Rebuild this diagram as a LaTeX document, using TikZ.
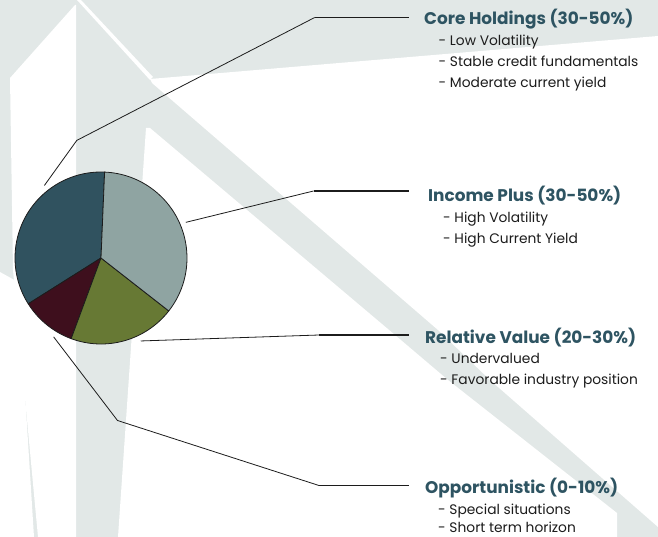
\documentclass[tikz,border=0pt]{standalone}
\usepackage{fontspec}
\setmainfont{Poppins}
\definecolor{bggray}{HTML}{E2E8E7}
\definecolor{pieteal}{HTML}{30525F}
\definecolor{piewine}{HTML}{3E0F1D}
\definecolor{pieolive}{HTML}{677934}
\definecolor{piesage}{HTML}{8FA4A2}
\definecolor{headteal}{HTML}{2E5462}
\definecolor{ink}{HTML}{1C1C1C}
\begin{document}
\begin{tikzpicture}[x=1pt,y=-1pt,line join=round,
	head/.style={anchor=base west,inner sep=0pt,text=headteal,font=\fontsize{16.9}{19}\selectfont\bfseries},
	item/.style={anchor=base west,inner sep=0pt,text=ink,font=\fontsize{13.8}{16}\selectfont},
	leader/.style={draw=ink,line width=0.8pt},
	tab/.style={draw=ink,line width=1.8pt}]
	\useasboundingbox (0,0) rectangle (658,537);
	% background turbine
	\fill[bggray] (0,0) rectangle (658,537);
	\fill[white] (0,272)--(18,282)--(34,537)--(0,537)--cycle;
	\fill[white] (75,5)--(10,78)--(13,270)--(38,537)--(76,537)--(76,5)--cycle;
	\fill[white] (77,0)--(81,0)--(153,77)--(150,80)--cycle;
	\fill[white] (150,79)--(658,36)--(658,527)--(490,380)--(438,330)--(152,83)--cycle;
	\fill[white] (146,128)--(118,537)--(617,537)--(617,513)--(448,380)--(395,335)--(150,128)--cycle;
	% pie
	\coordinate (pie) at (101,258);
	\foreach \a/\b/\c in {-87.6/-212.2/pieteal,-212.2/-249.7/piewine,-249.7/-322/pieolive,-322/-447.6/piesage}
		\draw[ink,line width=0.8pt,fill=\c] (pie) -- ++(\a:86) arc[start angle=\a,end angle=\b,radius=86] -- cycle;
	% labels
	\node[head] (core) at (424,24.3) {Core Holdings (30-50\%)};
	\node[head] (inc) at (428,201.7) {Income Plus (30-50\%)};
	\node[head] (rel) at (425,343) {Relative Value (20-30\%)};
	\node[head] (opp) at (425,493.7) {Opportunistic (0-10\%)};
	\foreach \n/\x/\y/\t in {core-1/438.5/45.7/Low Volatility,core-2/438.5/66.7/Stable credit fundamentals,
		core-3/438.5/87.5/Moderate current yield,inc-1/443/222.3/High Volatility,inc-2/443/243.3/High Current Yield,
		rel-1/440/363.7/Undervalued,rel-2/440/384.3/Favorable industry position,
		opp-1/438/514.3/Special situations,opp-2/438/532.5/Short term horizon}
		\node[item] (\n) at (\x,\y) {- \t};
	% leaders
	\foreach \n/\g/\bx/\by/\cx/\cy in {core/-128/76.8/140.4/314.7/17.5,inc/-22.8/313.5/191/313.5/191,
		rel/64.4/319/335/319/335,opp/121/117.5/420.5/319/485.5}
		{\coordinate (\n-a) at ([shift={(\g:92)}]pie);
		\coordinate (\n-b) at (\bx,\by);
		\coordinate (\n-c) at (\cx,\cy);
		\coordinate (\n-d) at (409,\cy);
		\draw[leader] (\n-a) -- (\n-b) -- (\n-c);
		\draw[tab] (\n-c) -- (\n-d);}
\end{tikzpicture}
\end{document}
